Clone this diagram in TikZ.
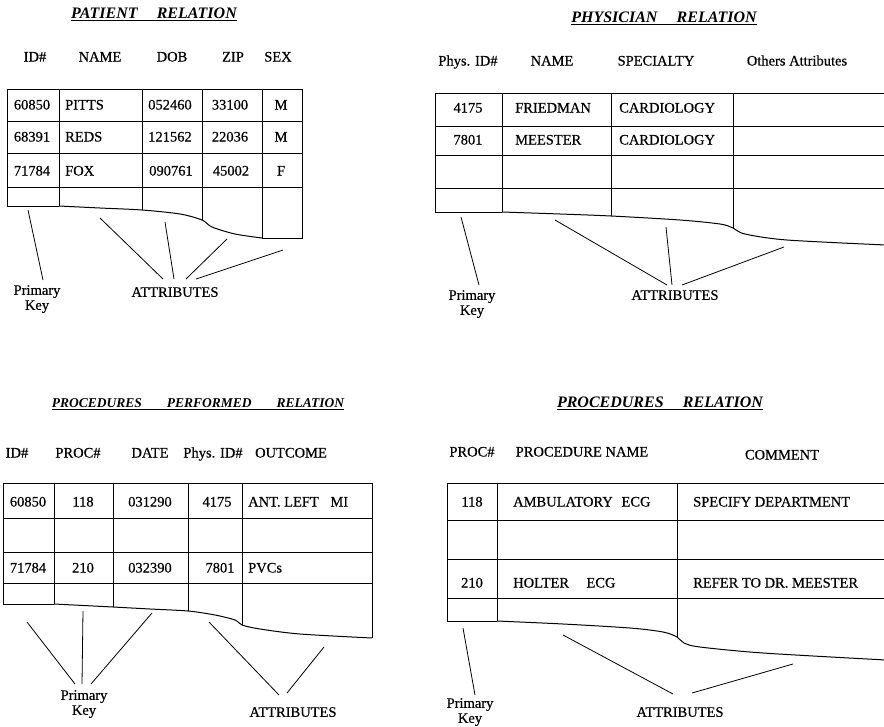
\documentclass[tikz,border=0pt]{standalone}
\usepackage{fontspec}
\setmainfont{Liberation Serif}
\newfontfamily\scanfont{Liberation Serif}[FakeBold=0.5]
\usepackage{tikz}
\usetikzlibrary{positioning}

\tikzset{
  txt/.style={font=\scanfont\fontsize{14.5}{15}\selectfont, inner sep=0pt, text height=10pt, text depth=3pt},
  ttl/.style={font=\fontsize{16}{18}\selectfont\bfseries\itshape, inner sep=0pt},
  lbl/.style={font=\scanfont\fontsize{14.5}{15}\selectfont, inner sep=0pt, align=center, anchor=north},
  tab/.style={line width=1pt},
  con/.style={line width=0.8pt}
}
\newcommand{\ttltext}[1]{\underline{#1}}

\begin{document}
\begin{tikzpicture}[x=1pt,y=-1pt]
		\useasboundingbox (0,0) rectangle (884,726);

		% patient relation
		\node[ttl] (ttlA) at (154,14) {\ttltext{PATIENT\hspace{1.2em}RELATION}};
		\node[txt] (hA1) at (35,58) {ID\#};
		\node[txt] (hA2) at (100,58) {NAME};
		\node[txt] (hA3) at (172,58) {DOB};
		\node[txt] (hA4) at (233,58) {ZIP};
		\node[txt] (hA5) at (278,58) {SEX};

		\draw[tab] (7,89) -- (302,89);
		\draw[tab] (7,121) -- (302,121);
		\draw[tab] (7,153) -- (302,153);
		\draw[tab] (7,187) -- (302,187);
		\draw[tab] (7,89) -- (7,206) -- (59,206);
		\draw[tab] (59,89) -- (59,206);
		\draw[tab] (142,89) -- (142,210);
		\draw[tab] (202,89) -- (202,220);
		\draw[tab] (262,89) -- (262,238) -- (302,238) -- (302,89);
		\draw[tab] plot[smooth] coordinates {(59,206) (100,208) (142,210) (180,214) (202,220) (212,227) (235,234) (262,238)};

		\node[txt] (a11) at (32,106) {60850};
		\node[txt, anchor=west] (a12) at (65,106) {PITTS};
		\node[txt] (a13) at (170,106) {052460};
		\node[txt] (a14) at (230,106) {33100};
		\node[txt] (a15) at (281,106) {M};
		\node[txt] (a21) at (32,138) {68391};
		\node[txt, anchor=west] (a22) at (65,138) {REDS};
		\node[txt] (a23) at (170,138) {121562};
		\node[txt] (a24) at (230,138) {22036};
		\node[txt] (a25) at (281,138) {M};
		\node[txt] (a31) at (32,172) {71784};
		\node[txt, anchor=west] (a32) at (65,172) {FOX};
		\node[txt] (a33) at (171,172) {090761};
		\node[txt] (a34) at (231,172) {45002};
		\node[txt] (a35) at (281,172) {F};

		\node[lbl] (pkA) at (37,285) {Primary\\Key};
		\node[lbl] (atA) at (175,287) {ATTRIBUTES};
		\coordinate (cA0) at (28,210);
		\coordinate (cA1) at (100,218);
		\coordinate (cA2) at (165,222);
		\coordinate (cA3) at (227,239);
		\coordinate (cA4) at (283,250);
		\draw[con] (cA0) -- ([xshift=6pt,yshift=5pt]pkA.north);
		\draw[con] (cA1) -- ([xshift=-12pt,yshift=8pt]atA.north);
		\draw[con] (cA2) -- ([xshift=-1pt,yshift=8pt]atA.north);
		\draw[con] (cA3) -- ([xshift=11pt,yshift=8pt]atA.north);
		\draw[con] (cA4) -- ([xshift=21pt,yshift=8pt]atA.north);

		% physician relation
		\node[ttl] (ttlB) at (664,18) {\ttltext{PHYSICIAN\hspace{1.2em}RELATION}};
		\node[txt] (hB1) at (468,62) {Phys. ID\#};
		\node[txt] (hB2) at (552,62) {NAME};
		\node[txt] (hB3) at (656,62) {SPECIALTY};
		\node[txt] (hB4) at (797,62) {Others Attributes};

		\draw[tab] (435,93) -- (886,93);
		\draw[tab] (435,126) -- (886,126);
		\draw[tab] (435,155) -- (886,155);
		\draw[tab] (435,188) -- (886,188);
		\draw[tab] (435,93) -- (435,212) -- (502,212);
		\draw[tab] (502,93) -- (502,212);
		\draw[tab] (611,93) -- (611,216);
		\draw[tab] (733,93) -- (733,228);
		\draw[tab] plot[smooth] coordinates {(502,212) (560,214) (611,216) (680,220) (720,224) (733,228) (745,234) (787,240) (886,245)};

		\node[txt] (b11) at (468,109) {4175};
		\node[txt, anchor=west] (b12) at (515,109) {FRIEDMAN};
		\node[txt, anchor=west] (b13) at (619,109) {CARDIOLOGY};
		\node[txt] (b21) at (468,141) {7801};
		\node[txt, anchor=west] (b22) at (515,141) {MEESTER};
		\node[txt, anchor=west] (b23) at (619,141) {CARDIOLOGY};

		\node[lbl] (pkB) at (472,290) {Primary\\Key};
		\node[lbl] (atB) at (675,290) {ATTRIBUTES};
		\coordinate (cB0) at (461,217);
		\coordinate (cB1) at (555,220);
		\coordinate (cB2) at (666,227);
		\coordinate (cB3) at (784,247);
		\draw[con] (cB0) -- ([xshift=7pt,yshift=5pt]pkB.north);
		\draw[con] (cB1) -- ([xshift=-8pt,yshift=5pt]atB.north);
		\draw[con] (cB2) -- ([xshift=-3pt,yshift=5pt]atB.north);
		\draw[con] (cB3) -- ([xshift=7pt,yshift=5pt]atB.north);

		% procedures performed relation
		\node[ttl, font=\fontsize{13.5}{15}\selectfont\bfseries\itshape] (ttlC) at (198,404) {\ttltext{PROCEDURES\hspace{1.85em}PERFORMED\hspace{1.85em}RELATION}};
		\node[txt] (hC1) at (17,454) {ID\#};
		\node[txt] (hC2) at (78,454) {PROC\#};
		\node[txt] (hC3) at (150,454) {DATE};
		\node[txt] (hC4) at (213,454) {Phys. ID\#};
		\node[txt] (hC5) at (291,454) {OUTCOME};

		\draw[tab] (3,483) -- (372,483);
		\draw[tab] (3,518) -- (372,518);
		\draw[tab] (3,552) -- (372,552);
		\draw[tab] (3,583) -- (372,583);
		\draw[tab] (3,483) -- (3,604) -- (54,604);
		\draw[tab] (54,483) -- (54,604);
		\draw[tab] (113,483) -- (113,607);
		\draw[tab] (188,483) -- (188,611);
		\draw[tab] (242,483) -- (242,625);
		\draw[tab] (372,483) -- (372,638);
		\draw[tab] plot[smooth] coordinates {(54,604) (113,607) (150,609) (188,611) (215,615) (235,620) (242,625) (260,629) (300,634) (372,638)};

		\node[txt] (c11) at (28,503) {60850};
		\node[txt] (c12) at (83,503) {118};
		\node[txt] (c13) at (150,503) {031290};
		\node[txt] (c14) at (217,503) {4175};
		\node[txt, anchor=west] (c15) at (248,503) {ANT. LEFT\hspace{0.8em}MI};
		\node[txt] (c31) at (28,569) {71784};
		\node[txt] (c32) at (83,569) {210};
		\node[txt] (c33) at (150,569) {032390};
		\node[txt] (c34) at (220,569) {7801};
		\node[txt, anchor=west] (c35) at (248,569) {PVCs};

		\node[lbl] (pkC) at (84,690) {Primary\\Key};
		\node[lbl] (atC) at (293,707) {ATTRIBUTES};
		\coordinate (cC0) at (27,622);
		\coordinate (cC1) at (83,611);
		\coordinate (cC2) at (152,613);
		\coordinate (cC3) at (209,622);
		\coordinate (cC4) at (324,647);
		\draw[con] (cC0) -- ([xshift=-9pt,yshift=6pt]pkC.north);
		\draw[con] (cC1) -- ([xshift=-2pt,yshift=6pt]pkC.north);
		\draw[con] (cC2) -- ([xshift=7pt,yshift=6pt]pkC.north);
		\draw[con] (cC3) -- ([xshift=-14pt,yshift=12pt]atC.north);
		\draw[con] (cC4) -- ([xshift=-6pt,yshift=14pt]atC.north);

		% procedures relation
		\node[ttl] (ttlD) at (660,403) {\ttltext{PROCEDURES\hspace{1.2em}RELATION}};
		\node[txt] (hD1) at (472,453) {PROC\#};
		\node[txt] (hD2) at (582,453) {PROCEDURE NAME};
		\node[txt] (hD3) at (782,456) {COMMENT};

		\draw[tab] (447,483) -- (886,483);
		\draw[tab] (447,520) -- (886,520);
		\draw[tab] (447,559) -- (886,559);
		\draw[tab] (447,598) -- (886,598);
		\draw[tab] (447,483) -- (447,621) -- (497,621);
		\draw[tab] (497,483) -- (497,621);
		\draw[tab] (677,483) -- (677,637);
		\draw[tab] plot[smooth] coordinates {(497,621) (563,624) (630,628) (663,632) (677,637) (684,643) (700,647) (763,653) (886,660)};

		\node[txt] (d11) at (472,503) {118};
		\node[txt, anchor=west] (d12) at (513,503) {AMBULATORY\hspace{0.6em}ECG};
		\node[txt, anchor=west] (d13) at (693,503) {SPECIFY DEPARTMENT};
		\node[txt] (d31) at (472,584) {210};
		\node[txt, anchor=west] (d32) at (513,584) {HOLTER\hspace{1.2em}ECG};
		\node[txt, anchor=west] (d33) at (693,584) {REFER TO DR. MEESTER};

		\node[lbl] (pkD) at (470,698) {Primary\\Key};
		\node[lbl] (atD) at (680,707) {ATTRIBUTES};
		\coordinate (cD0) at (463,628);
		\coordinate (cD1) at (563,635);
		\coordinate (cD2) at (793,664);
		\draw[con] (cD0) -- ([xshift=5pt,yshift=3pt]pkD.north);
		\draw[con] (cD1) -- ([xshift=-7pt,yshift=13pt]atD.north);
		\draw[con] (cD2) -- ([xshift=12pt,yshift=14pt]atD.north);
\end{tikzpicture}
\end{document}
